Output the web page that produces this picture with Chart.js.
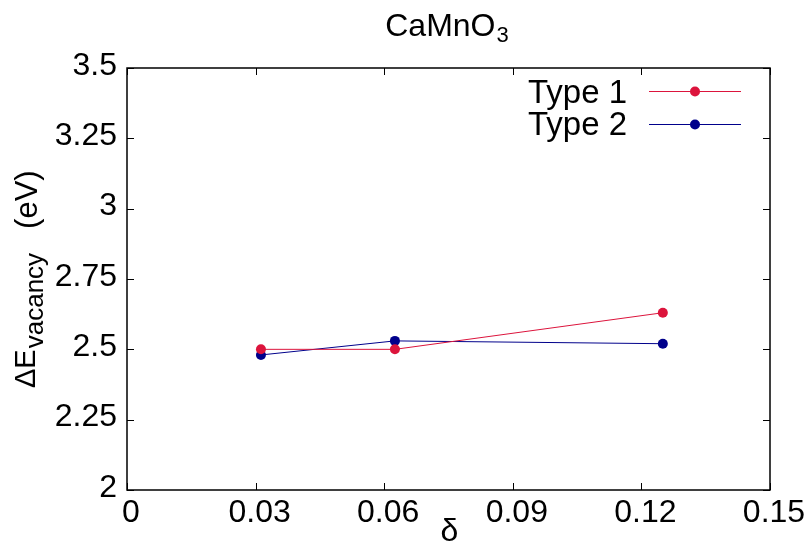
<!DOCTYPE html>
<html>
<head>
<meta charset="utf-8">
<script src="https://cdn.jsdelivr.net/npm/chart.js@4/dist/chart.umd.min.js"></script>
<style>
  html, body { margin: 0; padding: 0; background: #fff; }
  #wrap { width: 812px; height: 543px; }
</style>
</head>
<body>
<div id="wrap"><canvas id="c" width="812" height="543"></canvas></div>
<script>
// ---- data ----
const deltaValues = [0.03125, 0.0625, 0.125];
const type1Energy = [2.50, 2.50, 2.63];
const type2Energy = [2.48, 2.53, 2.52];
const seriesLabels = ['Type 1', 'Type 2'];
const seriesColors = ['#dc143c', '#00008b'];
const xRange = [0, 0.15];
const xStep = 0.03;
const yRange = [2, 3.5];
const yStep = 0.25;
const titleMain = 'CaMnO';
const titleSub = '3';
const yLabelMain = 'ΔE';
const yLabelSub = 'vacancy';
const yLabelUnit = '(eV)';
const xLabel = 'δ';

const FONT = '"Liberation Sans", Arial, Helvetica, sans-serif';

function toPoints(xs, ys) { return xs.map((x, i) => ({ x: x, y: ys[i] })); }

const decorations = {
  id: 'decorations',
  afterDatasetsDraw(chart) {
    const { ctx, chartArea: { left, right, top, bottom }, scales: { x, y } } = chart;
    ctx.save();
    // border
    ctx.strokeStyle = '#000';
    ctx.lineWidth = 1.5;
    ctx.strokeRect(left, top, right - left, bottom - top);
    // inward ticks on all four sides
    const tl = 7;
    ctx.lineWidth = 1;
    ctx.beginPath();
    y.ticks.forEach(t => {
      const py = Math.round(y.getPixelForValue(t.value)) + 0.5;
      ctx.moveTo(left, py); ctx.lineTo(left + tl, py);
      ctx.moveTo(right, py); ctx.lineTo(right - tl, py);
    });
    x.ticks.forEach(t => {
      const px = Math.round(x.getPixelForValue(t.value)) + 0.5;
      ctx.moveTo(px, bottom); ctx.lineTo(px, bottom - tl);
      ctx.moveTo(px, top); ctx.lineTo(px, top + tl);
    });
    ctx.stroke();

    ctx.fillStyle = '#000';
    // title with subscript
    const cx = (left + right) / 2 - 2;
    ctx.textBaseline = 'alphabetic';
    ctx.textAlign = 'left';
    ctx.font = '32px ' + FONT;
    const wMain = ctx.measureText(titleMain).width;
    ctx.font = '22px ' + FONT;
    const wSub = ctx.measureText(titleSub).width;
    const tx = cx - (wMain + wSub) / 2;
    ctx.font = '32px ' + FONT;
    ctx.fillText(titleMain, tx, 36);
    ctx.font = '22px ' + FONT;
    ctx.fillText(titleSub, tx + wMain + 1, 42);

    // x label
    ctx.font = '32px ' + FONT;
    ctx.textAlign = 'center';
    ctx.fillText(xLabel, (left + right) / 2 + 1, 541);

    // y label (rotated) with subscript
    ctx.save();
    ctx.translate(35, 388);
    ctx.rotate(-Math.PI / 2);
    ctx.textAlign = 'left';
    ctx.font = '29px ' + FONT;
    ctx.fillText(yLabelMain, 0, 0);
    let off = ctx.measureText(yLabelMain).width + 1;
    ctx.font = '26px ' + FONT;
    ctx.fillText(yLabelSub, off, 8);
    off += ctx.measureText(yLabelSub).width + 24;
    ctx.font = '31px ' + FONT;
    ctx.fillText(yLabelUnit, off, 2);
    ctx.restore();

    // legend
    chart.data.datasets.forEach((ds, i) => {
      const ly = 91 + i * 33;
      ctx.font = '33px ' + FONT;
      ctx.textAlign = 'right';
      ctx.fillStyle = '#000';
      ctx.fillText(ds.label, 627, 103 + i * 32);
      ctx.strokeStyle = ds.borderColor;
      ctx.lineWidth = 1;
      ctx.beginPath();
      ctx.moveTo(649, ly + 0.5); ctx.lineTo(741, ly + 0.5);
      ctx.stroke();
      ctx.fillStyle = ds.backgroundColor;
      ctx.beginPath();
      ctx.arc(695, ly + 0.5, 5, 0, Math.PI * 2);
      ctx.fill();
    });
    ctx.restore();
  }
};

const fmt = v => String(+Number(v).toFixed(2));

new Chart(document.getElementById('c'), {
  type: 'line',
  data: {
    datasets: [
      {
        label: seriesLabels[0],
        data: toPoints(deltaValues, type1Energy),
        borderColor: seriesColors[0],
        backgroundColor: seriesColors[0],
        borderWidth: 1,
        pointRadius: 5,
        pointBorderWidth: 0,
        tension: 0
      },
      {
        label: seriesLabels[1],
        data: toPoints(deltaValues, type2Energy),
        borderColor: seriesColors[1],
        backgroundColor: seriesColors[1],
        borderWidth: 1,
        pointRadius: 5,
        pointBorderWidth: 0,
        tension: 0
      }
    ]
  },
  options: {
    responsive: false,
    animation: false,
    devicePixelRatio: 1,
    layout: { padding: { top: 68, right: 42, left: 0, bottom: 0 } },
    plugins: {
      legend: { display: false },
      title: { display: false },
      tooltip: { enabled: false }
    },
    scales: {
      x: {
        type: 'linear',
        min: xRange[0],
        max: xRange[1],
        border: { display: false },
        grid: { display: false, drawTicks: false },
        ticks: {
          stepSize: xStep,
          padding: 4,
          labelOffset: 4,
          color: '#000',
          font: { family: FONT, size: 32 },
          maxRotation: 0,
          autoSkip: false,
          callback: fmt
        },
        afterFit(scale) { scale.height = 53; }
      },
      y: {
        type: 'linear',
        min: yRange[0],
        max: yRange[1],
        border: { display: false },
        grid: { display: false, drawTicks: false },
        ticks: {
          stepSize: yStep,
          padding: 10,
          labelOffset: -2,
          color: '#000',
          font: { family: FONT, size: 32 },
          autoSkip: false,
          callback: fmt
        },
        afterFit(scale) { scale.width = 127; }
      }
    }
  },
  plugins: [decorations]
});
</script>
</body>
</html>
